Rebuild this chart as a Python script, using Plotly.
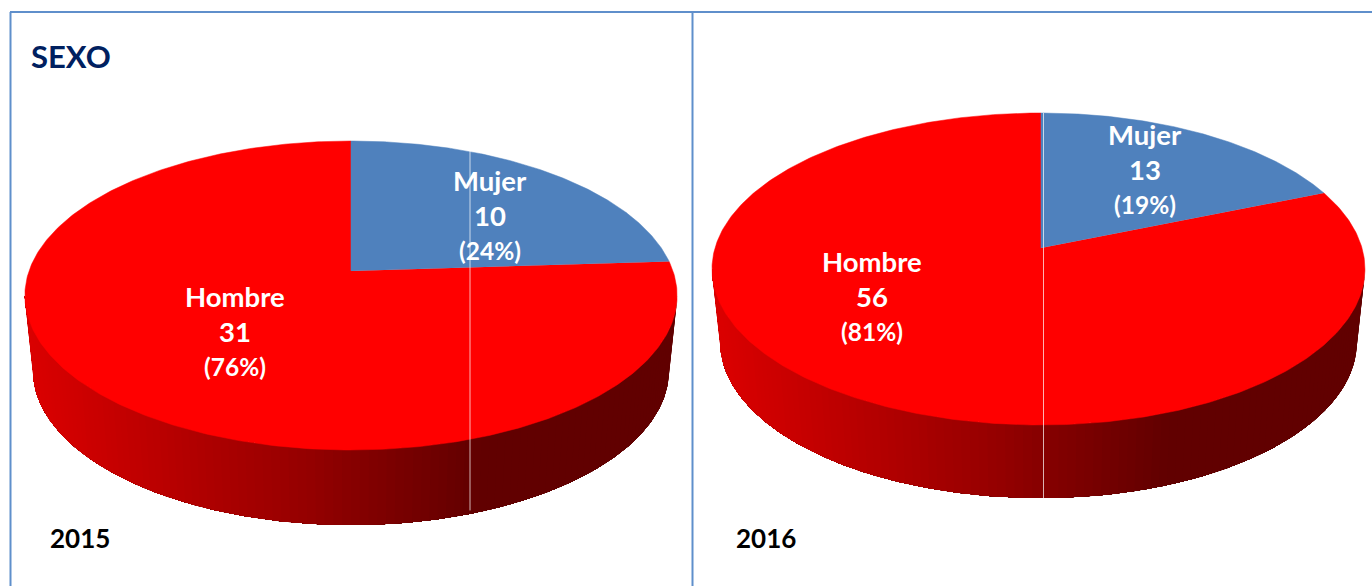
import numpy as np
import plotly.graph_objects as go

# --- data ---
YEARS = ["2015", "2016"]
CATEGORIES = ["Mujer", "Hombre"]
MUJER = [10, 13]
HOMBRE = [31, 56]
MUJER_PCT = ["(24%)", "(19%)"]
HOMBRE_PCT = ["(76%)", "(81%)"]
TITLE = "SEXO"

# --- layout of each pseudo-3D pie (pixel-scaled axes) ---
PIES = [
    dict(x0=351, apex=271, top=141, bottom=450, rx=322, rx_left=322, depth=75, guide=470, trim=1.5,
         mujer_xy=(490, 180), hombre_xy=(235, 296), year_xy=(80, 538)),
    dict(x0=1041, apex=248, top=113, bottom=425, rx=321, rx_left=326, depth=73, guide=1043.5, trim=0.0,
         mujer_xy=(1145, 134), hombre_xy=(872, 261), year_xy=(766, 538)),
]
BLUE = "#4f81bd"
RED = "#ff0000"
FRAME = "#5f8fcb"
SIDE_SCALE = 0.975
SHADE_U = [-1.0, -0.15, 0.0, 0.4, 1.0]
SHADE_R = [218, 150, 135, 97, 97]


def projector(p):
    up = p["apex"] - p["top"]
    down = p["bottom"] - p["apex"]
    ratio = up / down
    k = (1 - ratio) / (1 + ratio)
    b = up * (1 + k)

    def proj(theta, scale=1.0, dy=0.0):
        s, c = np.sin(theta), np.cos(theta)
        w = 1 + k * c
        rx = np.where(s >= 0, p["rx"], p["rx_left"])
        return p["x0"] + rx * scale * s / w, p["apex"] - b * c / w + dy
    return proj, k


fig = go.Figure()


def poly(x, y, color, width=0.0):
    fig.add_trace(go.Scatter(
        x=np.round(x, 2).tolist(), y=np.round(y, 2).tolist(), mode="lines", fill="toself",
        fillcolor=color, line=dict(color=color, width=width), hoverinfo="skip", showlegend=False))


for i, p in enumerate(PIES):
    proj, k = projector(p)
    total = MUJER[i] + HOMBRE[i]
    split = 2 * np.pi * MUJER[i] / total - np.radians(p["trim"])

    # side wall: overlapping bands along the front rim, right extreme -> left extreme
    start = np.arccos(-k)
    grid = np.linspace(start, 2 * np.pi - start, 361)
    xr, yr = proj(grid)
    xl, yl = proj(grid, SIDE_SCALE, p["depth"])
    for j in range(0, 360, 3):
        u = (xr[j:j + 4].mean() - p["x0"]) / p["rx"]
        shade = int(round(np.interp(u, SHADE_U, SHADE_R)))
        poly(np.r_[xr[j:], xl[j:][::-1]], np.r_[yr[j:], yl[j:][::-1]], f"rgb({shade},0,0)")

    # top face: one sector per category, angles from the values
    t = np.linspace(split, 2 * np.pi, 400)
    x, y = proj(t)
    poly(np.r_[p["x0"], x], np.r_[p["apex"], y], RED, 0.5)
    t = np.linspace(0, split, 200)
    x, y = proj(t)
    poly(np.r_[p["x0"], x], np.r_[p["apex"], y], BLUE, 0.5)

    # thin pale vertical artefact crossing the pie
    s = (p["guide"] - p["x0"]) / (p["rx"] * 1.01)
    fig.add_trace(go.Scatter(
        x=[p["guide"], p["guide"]],
        y=[float(proj(np.arcsin(s))[1]), float(proj(np.pi - np.arcsin(s), SIDE_SCALE, p["depth"])[1])],
        mode="lines", line=dict(color="rgba(255,255,255,0.7)", width=1),
        hoverinfo="skip", showlegend=False))


def label(xy, lines):
    for (txt, size), dy in zip(lines, (0, 35, 70)):
        fig.add_annotation(x=xy[0], y=xy[1] + dy, text=txt, showarrow=False,
                           xanchor="center", yanchor="middle",
                           font=dict(family="Lato", size=size, color="white", weight=700))


for i, p in enumerate(PIES):
    label(p["mujer_xy"], [(CATEGORIES[0], 27.5), (str(MUJER[i]), 27.5), (MUJER_PCT[i], 24.5)])
    label(p["hombre_xy"], [(CATEGORIES[1], 27.5), (str(HOMBRE[i]), 27.5), (HOMBRE_PCT[i], 24.5)])
    fig.add_annotation(x=p["year_xy"][0], y=p["year_xy"][1], text=YEARS[i], showarrow=False,
                       font=dict(family="Lato", size=26, color="black", weight=700))

fig.add_annotation(x=71, y=56, text=TITLE, showarrow=False,
                   font=dict(family="Lato", size=31, color="#002060", weight=700))

FRAME_LINES = [(10.5, 12, 10.5, 586), (10, 12, 1372, 12), (692.5, 11, 692.5, 586)]
for x0, y0, x1, y1 in FRAME_LINES:
    fig.add_shape(type="line", x0=x0, y0=y0, x1=x1, y1=y1, line=dict(color=FRAME, width=2))

fig.update_layout(
    width=1372, height=586, margin=dict(l=0, r=0, t=0, b=0),
    paper_bgcolor="white", plot_bgcolor="white", showlegend=False,
    xaxis=dict(range=[0, 1372], visible=False, fixedrange=True),
    yaxis=dict(range=[586, 0], visible=False, fixedrange=True),
)
fig.write_html("out.html", config=dict(displayModeBar=False),
               default_width="1372px", default_height="586px",
               post_script="document.body.style.margin='0';document.documentElement.style.overflow='hidden';")
